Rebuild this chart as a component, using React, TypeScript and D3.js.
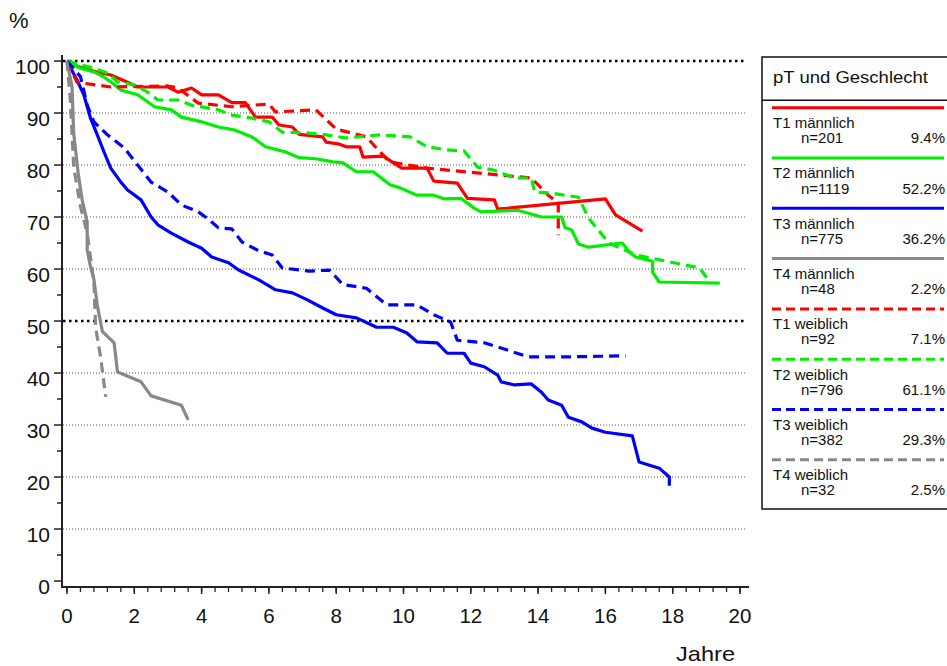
import React from "react";
import * as d3 from "d3";

type Pt = [number, number];

const t1Maennlich: Pt[] = [[0,100],[0.3,99],[0.8,98],[1.3,97.3],[1.8,95.9],[2.1,95],[3,95],[3.3,94],[3.7,94.8],[4.0,93.5],[4.5,93.5],[4.9,92],[5.3,92],[5.6,89.2],[6.1,89.2],[6.3,87.7],[6.7,87.3],[6.9,85.9],[7.6,85.4],[7.7,84.4],[8.1,84],[8.3,83.5],[8.7,83.5],[8.8,81.5],[9.4,81.7],[9.7,80.4],[9.95,79.4],[10.7,79.4],[10.9,76.9],[11.6,76.5],[11.9,73.6],[12.7,73.3],[12.8,71.5],[16.0,73.5],[16.3,70.4],[17.1,67.3]];
const t2Maennlich: Pt[] = [[0,100],[0.4,98.6],[0.8,97.9],[1.1,96.9],[1.3,96],[1.6,94.4],[2.1,93.5],[2.6,91.2],[3.1,90.6],[3.4,89.2],[4.0,88.3],[4.5,87.3],[5.0,86.7],[5.5,85.4],[5.9,83.5],[6.5,82.5],[6.9,81.4],[7.4,81.2],[7.9,80.6],[8.2,80.4],[8.6,78.7],[9.1,78.7],[9.6,76.2],[9.9,75.6],[10.4,74.2],[10.9,74.2],[11.2,73.5],[11.7,73.6],[12.1,71.7],[12.3,71],[13.4,71.3],[14.1,70],[14.7,70],[14.8,68],[15.0,67.5],[15.2,64.8],[15.5,64.2],[16.5,65],[16.7,63.3],[16.9,62.3],[17.4,61.5],[17.4,59.4],[17.6,57.5],[19.4,57.3]];
const t3Maennlich: Pt[] = [[0,100],[0.3,96.3],[0.5,93.5],[0.7,89],[0.9,85.8],[1.1,82.5],[1.3,79.4],[1.6,76.7],[1.8,75.2],[2.2,73.3],[2.5,70],[2.7,68.5],[3.1,66.9],[3.6,65.2],[4.0,64],[4.3,62.3],[4.8,61.2],[5.1,59.8],[5.7,57.9],[6.2,56],[6.7,55.4],[7.1,54.2],[7.6,52.5],[8.0,51.2],[8.6,50.6],[9.2,48.8],[9.7,48.8],[10.1,47.7],[10.4,46],[11.0,45.8],[11.3,43.8],[11.8,43.8],[12.0,41.9],[12.4,41.2],[12.8,39.6],[12.9,38.3],[13.3,37.7],[13.8,37.9],[14.1,36.3],[14.3,34.8],[14.7,33.8],[14.9,31.5],[15.3,30.6],[15.6,29.4],[16.0,28.6],[16.8,27.9],[17.0,22.9],[17.6,21.7],[17.9,20],[17.9,18.3]];
const t4Maennlich: Pt[] = [[0,100],[0.15,95],[0.2,86],[0.33,78.5],[0.45,73.3],[0.6,69],[0.6,63.7],[0.7,60.4],[0.8,58],[0.9,53],[1.05,48],[1.4,45.8],[1.5,40.2],[2.2,38.3],[2.5,35.6],[3.4,33.8],[3.6,31]];
const t1Weiblich: Pt[] = [[0,100],[0.3,95.9],[1.3,95],[3,95.2],[3.3,94.8],[3.9,91.9],[4.9,91.2],[5.5,91.5],[6.0,91.7],[6.2,90.2],[7.4,90.6],[8.0,86.9],[8.9,85.4],[9.3,82.5],[9.6,80.6],[10.7,79.4],[13.8,77.5],[14.3,74.2],[14.6,72.7],[14.6,66.5]];
const t2Weiblich: Pt[] = [[0,100],[0.8,98.6],[1.2,97.7],[1.5,96],[2.0,95.4],[2.4,94],[2.7,92.5],[3.3,92.5],[3.7,91.5],[4.5,90.6],[4.9,89.6],[5.5,89],[6.0,88.3],[6.4,86.3],[7.1,86.2],[7.7,85.8],[8.3,85.2],[9.3,85.8],[10.2,85.4],[10.7,83.5],[11.3,82.9],[11.8,82.7],[12.2,79.6],[12.7,79],[13.3,77.5],[13.8,77.5],[13.9,74.8],[14.4,74.6],[15.2,73.8],[15.5,69.8],[16.1,65],[16.7,63.3],[16.9,62.7],[18.8,60.2],[19.1,57.5]];
const t3Weiblich: Pt[] = [[0,100],[0.4,97],[0.6,91.5],[0.8,88.3],[1.2,85.8],[1.7,83.3],[2.1,80],[2.5,76.7],[3.0,74.8],[3.4,72.3],[3.9,71],[4.2,69.6],[4.5,67.9],[4.9,67.7],[5.2,65.2],[5.7,63.5],[6.1,62.7],[6.4,60.2],[7.2,59.6],[7.8,59.8],[8.2,57],[8.9,56.3],[9.5,53.1],[10.4,53.1],[10.9,51.2],[11.4,49.8],[11.6,46.3],[12.4,45.8],[12.9,44.8],[13.7,43.1],[14.9,43.1],[16.6,43.3]];
const t4Weiblich: Pt[] = [[0,100],[0.1,92.5],[0.2,79.6],[0.4,72],[0.6,66.9],[0.8,57.3],[0.85,48.8],[1.0,43],[1.15,35.4]];

const seriesNames = ["T1 männlich","T2 männlich","T3 männlich","T4 männlich","T1 weiblich","T2 weiblich","T3 weiblich","T4 weiblich"];
const seriesN = ["n=201","n=1119","n=775","n=48","n=92","n=796","n=382","n=32"];
const seriesPct = ["9.4%","52.2%","36.2%","2.2%","7.1%","61.1%","29.3%","2.5%"];
const seriesData = [t1Maennlich,t2Maennlich,t3Maennlich,t4Maennlich,t1Weiblich,t2Weiblich,t3Weiblich,t4Weiblich];
const seriesColors = ["#ff0000","#00ee00","#0000ff","#888888","#ff0000","#00ee00","#0000ff","#888888"];
const seriesDashed = [false,false,false,false,true,true,true,true];

const yTicks = [0,10,20,30,40,50,60,70,80,90,100];
const xTicks = [0,2,4,6,8,10,12,14,16,18,20];
const legendTitle = "pT und Geschlecht";

export default function App() {
  const W = 947, H = 666;
  const x = d3.scaleLinear().domain([0, 20]).range([67, 740]);
  const y = d3.scaleLinear().domain([0, 100]).range([581, 61]);
  const line = d3.line<Pt>().x(d => x(d[0])).y(d => y(d[1])).curve(d3.curveLinear);
  const font = "Arial, 'Liberation Sans', sans-serif";
  const minorX = d3.range(0, 20.001, 0.4);
  const minorY = d3.range(5, 100, 10);

  return (
    <svg width={W} height={H} style={{ position: "absolute", left: 0, top: 0, background: "#fff" }} fontFamily={font}>
      {yTicks.filter(v => v > 0).map(v => {
        const strong = v === 50 || v === 100;
        return (
          <line key={"g" + v} x1={63} x2={745} y1={y(v)} y2={y(v)}
            stroke={strong ? "#000" : "#555"} strokeWidth={strong ? 2.5 : 1}
            strokeDasharray={strong ? "2.5,3.5" : "1,2"} />
        );
      })}
      <line x1={62} x2={62} y1={55} y2={588} stroke="#222" strokeWidth={2} />
      <line x1={61} x2={749} y1={587} y2={587} stroke="#222" strokeWidth={2} />
      {yTicks.map(v => (
        <g key={"yt" + v}>
          <line x1={54} x2={62} y1={y(v)} y2={y(v)} stroke="#222" strokeWidth={1.5} />
          <text x={50} y={y(v) + 12.5} textAnchor="end" fontSize={21} fill="#111">{v}</text>
        </g>
      ))}
      {minorY.map(v => (
        <line key={"ym" + v} x1={57} x2={62} y1={y(v)} y2={y(v)} stroke="#222" strokeWidth={1.5} />
      ))}
      {minorX.map((t, i) => (
        <line key={"xm" + i} x1={x(t)} x2={x(t)} y1={587} y2={592} stroke="#222" strokeWidth={1.3} />
      ))}
      {xTicks.map(t => (
        <g key={"xt" + t}>
          <line x1={x(t)} x2={x(t)} y1={587} y2={594} stroke="#222" strokeWidth={1.5} />
          <text x={x(t)} y={623} textAnchor="middle" fontSize={20.5} fill="#111">{t}</text>
        </g>
      ))}
      <text x={9} y={28} fontSize={22} fill="#111">%</text>
      <text x={676} y={661} fontSize={21} fill="#111" textLength={59} lengthAdjust="spacingAndGlyphs">Jahre</text>

      {seriesData.map((d, i) => (
        <path key={"s" + i} d={line(d) || ""} fill="none" stroke={seriesColors[i]} strokeWidth={3.2}
          strokeDasharray={seriesDashed[i] ? "10,6" : undefined} strokeLinejoin="round" />
      ))}

      <rect x={762} y={57} width={200} height={452} fill="#fff" stroke="#111" strokeWidth={1.5} />
      <text x={773} y={82.5} fontSize={16} fill="#111" textLength={155} lengthAdjust="spacingAndGlyphs">{legendTitle}</text>
      <line x1={762} x2={947} y1={100.3} y2={100.3} stroke="#111" strokeWidth={1.5} />
      {seriesNames.map((name, i) => {
        const y0 = 107.7 + i * 50.3;
        return (
          <g key={"l" + i}>
            <line x1={772} x2={944} y1={y0} y2={y0} stroke={seriesColors[i]} strokeWidth={3}
              strokeDasharray={seriesDashed[i] ? "9,5" : undefined} />
            <text x={773} y={y0 + 20.3} fontSize={15} fill="#111">{name}</text>
            <text x={801} y={y0 + 35.5} fontSize={15} fill="#111">{seriesN[i]}</text>
            <text x={945} y={y0 + 35.5} textAnchor="end" fontSize={15} fill="#111">{seriesPct[i]}</text>
          </g>
        );
      })}
    </svg>
  );
}
